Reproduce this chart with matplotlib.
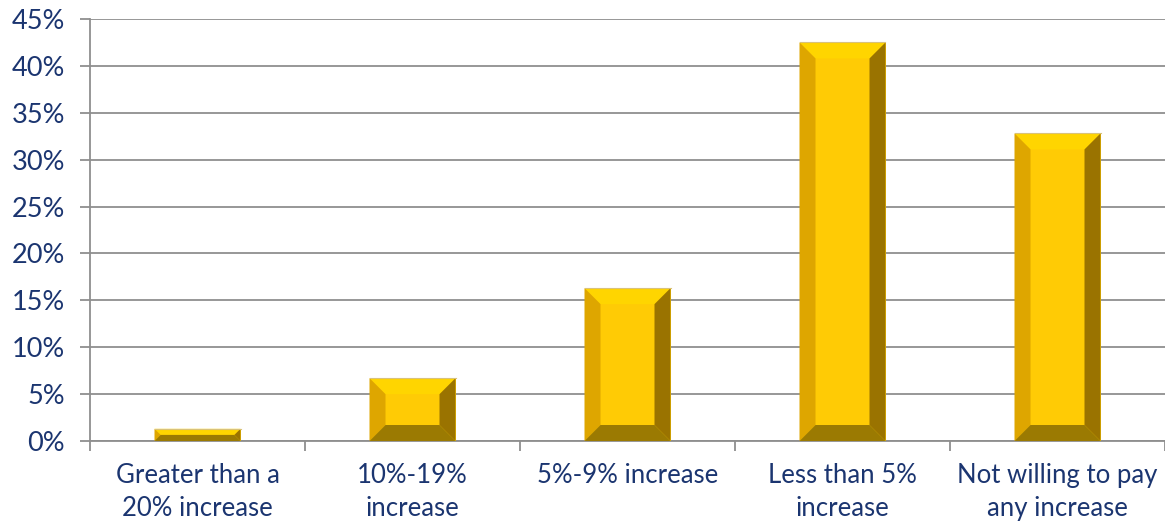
import matplotlib
matplotlib.use("Agg")
import matplotlib.pyplot as plt
from matplotlib.patches import Polygon
from matplotlib.ticker import MultipleLocator, FuncFormatter

categories = ["Greater than a\n20% increase", "10%-19%\nincrease", "5%-9% increase",
              "Less than 5%\nincrease", "Not willing to pay\nany increase"]
values = [1.3, 6.7, 16.3, 42.5, 32.8]

TEXT = "#1b3570"
GRID = "#8f8f8f"

plt.rcParams["font.family"] = ["Lato", "DejaVu Sans"]

W, H = 1165, 521
fig = plt.figure(figsize=(W / 100, H / 100), dpi=100)
ax = fig.add_axes([90 / W, 1 - 441 / H, 1075 / W, 422 / H])

ax.set_xlim(-0.5, len(categories) - 0.5)
ax.set_ylim(0, 45)

# plain bars first, then bevel faces on top of them
bars = ax.bar(range(len(values)), values, width=0.4, color="#ffcb05", zorder=3)

px_x = (len(categories)) / 1075.0   # data units per pixel, x
px_y = 45 / 422.0                    # data units per pixel, y
bev = 16

for b in bars:
    x0, y0 = b.get_x(), b.get_y()
    w, h = b.get_width(), b.get_height()
    x1, y1 = x0 + w, y0 + h
    hpx = h / px_y
    wpx = w / px_x
    d = min(bev, hpx / 2, wpx / 2)
    dx, dy = d * px_x, d * px_y
    faces = [
        ([(x0, y1), (x1, y1), (x1 - dx, y1 - dy), (x0 + dx, y1 - dy)], "#ffd500"),  # top
        ([(x0, y0), (x0, y1), (x0 + dx, y1 - dy), (x0 + dx, y0 + dy)], "#dea600"),  # left
        ([(x1, y0), (x1, y1), (x1 - dx, y1 - dy), (x1 - dx, y0 + dy)], "#9a7300"),  # right
        ([(x0, y0), (x1, y0), (x1 - dx, y0 + dy), (x0 + dx, y0 + dy)], "#9b7a02"),  # bottom
    ]
    for pts, c in faces:
        ax.add_patch(Polygon(pts, closed=True, facecolor=c, edgecolor="none", zorder=4))
    ax.plot([x0, x1], [y1, y1], color="#d9c27a", lw=0.8, zorder=5)

ax.yaxis.set_major_locator(MultipleLocator(5))
ax.yaxis.set_major_formatter(FuncFormatter(lambda v, p: f"{v:.0f}%"))
ax.grid(axis="y", color=GRID, lw=1.3, zorder=1)
ax.set_axisbelow(True)

ax.set_xticks([i + 0.5 for i in range(-1, len(categories))])
ax.set_xticklabels([])
ax.set_xticks(range(len(categories)), minor=True)
ax.set_xticklabels(categories, minor=True)
ax.tick_params(axis="x", which="minor", length=0, pad=16, labelsize=18.5, labelcolor=TEXT)
ax.tick_params(axis="x", which="major", length=7, color=GRID, width=1.3)
ax.tick_params(axis="y", length=7, color=GRID, width=1.3, labelsize=19.5, labelcolor=TEXT, pad=11)
for lab in ax.get_xticklabels(minor=True):
    lab.set_linespacing(1.4)

for s in ["top", "right"]:
    ax.spines[s].set_visible(False)
ax.spines["left"].set_color(GRID)
ax.spines["left"].set_linewidth(1.3)
ax.spines["bottom"].set_color(GRID)
ax.spines["bottom"].set_linewidth(1.3)

fig.savefig("out.png", dpi=100, facecolor="white")
